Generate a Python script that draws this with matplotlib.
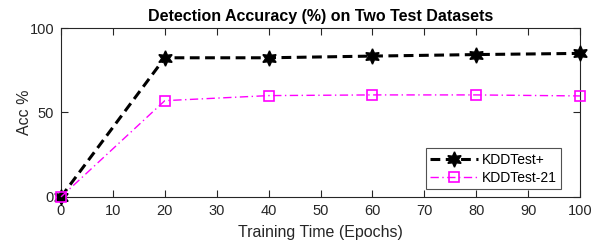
import matplotlib
matplotlib.use("Agg")
import matplotlib.pyplot as plt

# datos
epochs = [0, 20, 40, 60, 80, 100]
kdd_test_plus = [0, 82.4, 82.4, 83.4, 84.3, 85.0]
kdd_test_21 = [0, 57.0, 60.0, 60.4, 60.4, 59.8]
x_ticks = [0, 10, 20, 30, 40, 50, 60, 70, 80, 90, 100]
y_ticks = [0, 50, 100]

plt.rcParams['font.family'] = ['Liberation Sans', 'DejaVu Sans']

fig = plt.figure(figsize=(5.98, 2.44), dpi=100)
ax = fig.add_axes([0.102, 0.193, 0.868, 0.692])

ax.plot(epochs, kdd_test_plus, color='black', linestyle=(0, (3.2, 1.8)), linewidth=2.2,
        marker=(6, 1, 0), markersize=11, markerfacecolor='black', markeredgecolor='black',
        label='KDDTest+', clip_on=False, zorder=3)
ax.plot(epochs, kdd_test_21, color='magenta', linestyle=(0, (6, 2.5, 1, 2.5)), linewidth=1.0,
        marker='s', markersize=7.5, markerfacecolor='none', markeredgecolor='magenta',
        markeredgewidth=1.2, label='KDDTest-21', clip_on=False, zorder=4)

ax.set_xlim(0, 100)
ax.set_ylim(0, 100)
ax.set_xticks(x_ticks)
ax.set_yticks(y_ticks)
ax.tick_params(direction='in', top=True, right=True, labelsize=10.5, colors='#262626',
               length=5, pad=5)
for s in ax.spines.values():
    s.set_color('#262626')
    s.set_linewidth(0.8)

ax.set_xlabel('Training Time (Epochs)', fontsize=11.5, color='#262626', labelpad=5)
ax.set_ylabel('Acc %', fontsize=11.5, color='#262626', labelpad=-2)
ax.set_title('Detection Accuracy (%) on Two Test Datasets', fontsize=11.5, fontweight='bold', pad=5)

leg = ax.legend(loc='lower right', bbox_to_anchor=(0.963, 0.047), fontsize=10, frameon=True,
                fancybox=False, edgecolor='#262626', handlelength=3.4, borderpad=0.3,
                labelspacing=0.3, handletextpad=0.3, borderaxespad=0)
leg.get_frame().set_linewidth(0.8)

fig.savefig('out.png', dpi=100)
